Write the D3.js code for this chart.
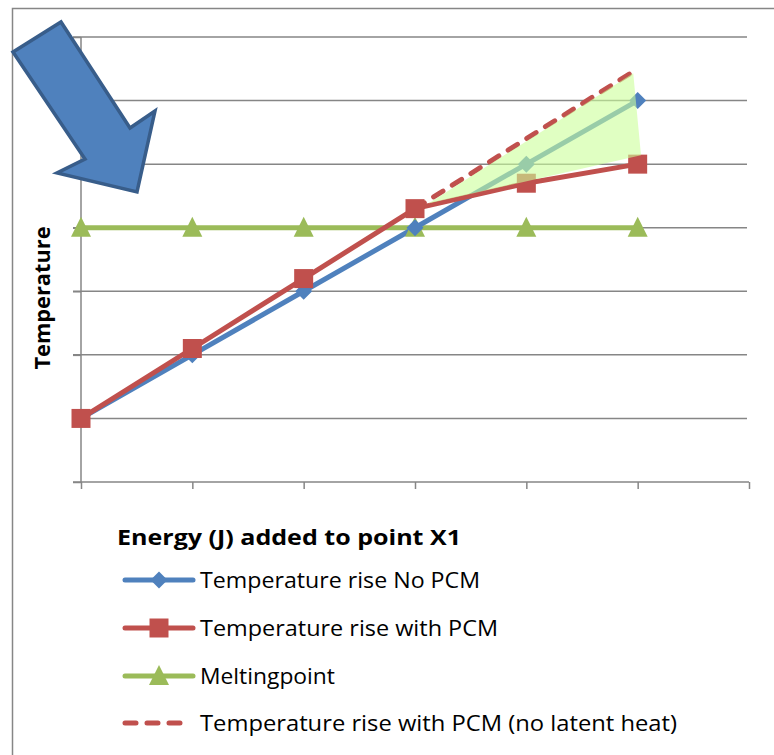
<!DOCTYPE html>
<html>
<head>
<meta charset="utf-8">
<script src="https://cdn.jsdelivr.net/npm/d3@7"></script>
<style>
  body { margin: 0; background: #fff; }
  text { font-family: "Open Sans", Lato, sans-serif; fill: #000; }
</style>
</head>
<body>
<svg id="chart" width="774" height="755"></svg>
<script>
// category positions (energy steps), the last tick has no data
var steps = [0, 1, 2, 3, 4, 5];
var noPCM = [1, 2, 3, 4, 5, 6];
var withPCM = [1, 2.1, 3.2, 4.3, 4.7, 5];
var melting = [4, 4, 4, 4, 4, 4];
var noLatent = [null, null, null, 4.3, 5.4, 6.5];

// shaded "gain" triangle, in step / value units
var shadeX = [3.12, 4.96, 5.03];
var shadeY = [4.38, 6.43, 5.14];

var legendNames = [
  "Temperature rise No PCM",
  "Temperature rise with PCM",
  "Meltingpoint",
  "Temperature rise with PCM (no latent heat)"
];

var margin = {left: 81, top: 37};

var svg = d3.select("#chart");

// outer frame
svg.append("rect")
  .attr("x", 12.5).attr("y", 8.5)
  .attr("width", 800).attr("height", 800)
  .attr("fill", "none").attr("stroke", "#868686").attr("stroke-width", 1.5);

var x = d3.scaleLinear().domain([0, 6]).range([0, 668]);
var y = d3.scaleLinear().domain([0, 7]).range([445, 0]);

var g = svg.append("g").attr("transform", "translate(" + margin.left + "," + margin.top + ")");

// gridlines
g.append("g")
  .selectAll("line")
  .data(d3.range(1, 8))
  .join("line")
  .attr("x1", -8).attr("x2", 666)
  .attr("y1", d => y(d)).attr("y2", d => y(d))
  .attr("stroke", "#868686").attr("stroke-width", 1.5);

// axes, labels hidden
var yAxis = g.append("g")
  .call(d3.axisLeft(y).ticks(7).tickSize(8).tickFormat(""));
var xAxis = g.append("g")
  .attr("transform", "translate(0," + y(0) + ")")
  .call(d3.axisBottom(x).ticks(6).tickSize(7).tickFormat(""));
[xAxis, yAxis].forEach(function(a) {
  a.selectAll("path, line").attr("stroke", "#868686").attr("stroke-width", 1.5);
  a.select(".domain").attr("d", a === xAxis ? "M-8,0H668" : "M0,0V445");
});

var line = d3.line()
  .defined(d => d != null)
  .x((d, i) => x(steps[i]))
  .y(d => y(d));

var blue = "#4f81bd", red = "#c0504d", green = "#9bbb59";

// marker shapes, size = width in px
var diamondT = {draw: function(c, s) { var r = s / 2; c.moveTo(0, -r); c.lineTo(r, 0); c.lineTo(0, r); c.lineTo(-r, 0); c.closePath(); }};
var squareT = {draw: function(c, s) { var r = s / 2; c.rect(-r, -r, s, s); }};
var triT = {draw: function(c, s) { var r = s / 2; c.moveTo(0, -r - 1); c.lineTo(r, r - 1); c.lineTo(-r, r - 1); c.closePath(); }};
var diamond = d3.symbol().type(diamondT).size(17);
var square = d3.symbol().type(squareT).size(19);
var tri = d3.symbol().type(triT).size(20);

// meltingpoint
g.append("path").datum(melting).attr("d", line)
  .attr("fill", "none").attr("stroke", green).attr("stroke-width", 5);

// no latent heat (dashed)
g.append("path").datum(noLatent).attr("d", line)
  .attr("fill", "none").attr("stroke", red).attr("stroke-width", 5)
  .attr("stroke-dasharray", "11,11").attr("stroke-linecap", "round");

g.append("path").datum(noPCM).attr("d", line)
  .attr("fill", "none").attr("stroke", blue).attr("stroke-width", 5)
  .attr("stroke-linejoin", "round");

g.append("path").datum(withPCM).attr("d", line)
  .attr("fill", "none").attr("stroke", red).attr("stroke-width", 5)
  .attr("stroke-linejoin", "round");

function markers(data, sym, color) {
  g.append("g").selectAll("path")
    .data(data)
    .join("path")
    .attr("transform", (d, i) => "translate(" + x(steps[i]) + "," + y(d) + ")")
    .attr("d", sym)
    .attr("fill", color);
}
markers(melting, tri, green);
markers(noPCM, diamond, blue);
markers(withPCM, square, red);

// shaded triangle drawn over the lines
g.append("path")
  .datum(d3.zip(shadeX, shadeY))
  .attr("d", d3.line().x(d => x(d[0])).y(d => y(d[1])).curve(d3.curveLinearClosed))
  .attr("fill", "#ccff99").attr("fill-opacity", 0.6);

// block arrow annotation
var arrow = [[13, 52], [61, 22], [130, 128], [155, 111], [137, 192], [57, 173], [85, 159]];
svg.append("path")
  .attr("d", d3.line().curve(d3.curveLinearClosed)(arrow))
  .attr("fill", blue).attr("stroke", "#385d8a").attr("stroke-width", 3.5)
  .attr("stroke-linejoin", "miter");

// y title
svg.append("text")
  .attr("transform", "translate(50,298) rotate(-90)")
  .attr("text-anchor", "middle")
  .style("font-weight", "bold").style("font-size", "21px")
  .attr("textLength", 143).attr("lengthAdjust", "spacingAndGlyphs")
  .text("Temperature");

// legend
svg.append("text")
  .attr("x", 117).attr("y", 545)
  .style("font-weight", "bold").style("font-size", "22px")
  .attr("textLength", 344).attr("lengthAdjust", "spacingAndGlyphs")
  .text("Energy (J) added to point X1");

var legendRows = [580, 628, 676, 723];
var legendLens = [280, 298, 135, 477];
var legendSyms = [[blue, diamond, null], [red, square, null], [green, tri, null], [red, null, "11,11"]];
var leg = svg.append("g");
legendNames.forEach(function(name, i) {
  var c = legendSyms[i][0], ly = legendRows[i];
  leg.append("line")
    .attr("x1", 125).attr("x2", legendSyms[i][2] ? 187 : 193).attr("y1", ly).attr("y2", ly)
    .attr("stroke", c).attr("stroke-width", 5).attr("stroke-linecap", "round")
    .attr("stroke-dasharray", legendSyms[i][2]);
  if (legendSyms[i][1]) {
    leg.append("path")
      .attr("transform", "translate(159," + ly + ")")
      .attr("d", legendSyms[i][1])
      .attr("fill", c);
  }
  leg.append("text")
    .attr("x", 200).attr("y", ly + 8)
    .style("font-size", "21px")
    .attr("textLength", legendLens[i]).attr("lengthAdjust", "spacingAndGlyphs")
    .text(name);
});
</script>
</body>
</html>
